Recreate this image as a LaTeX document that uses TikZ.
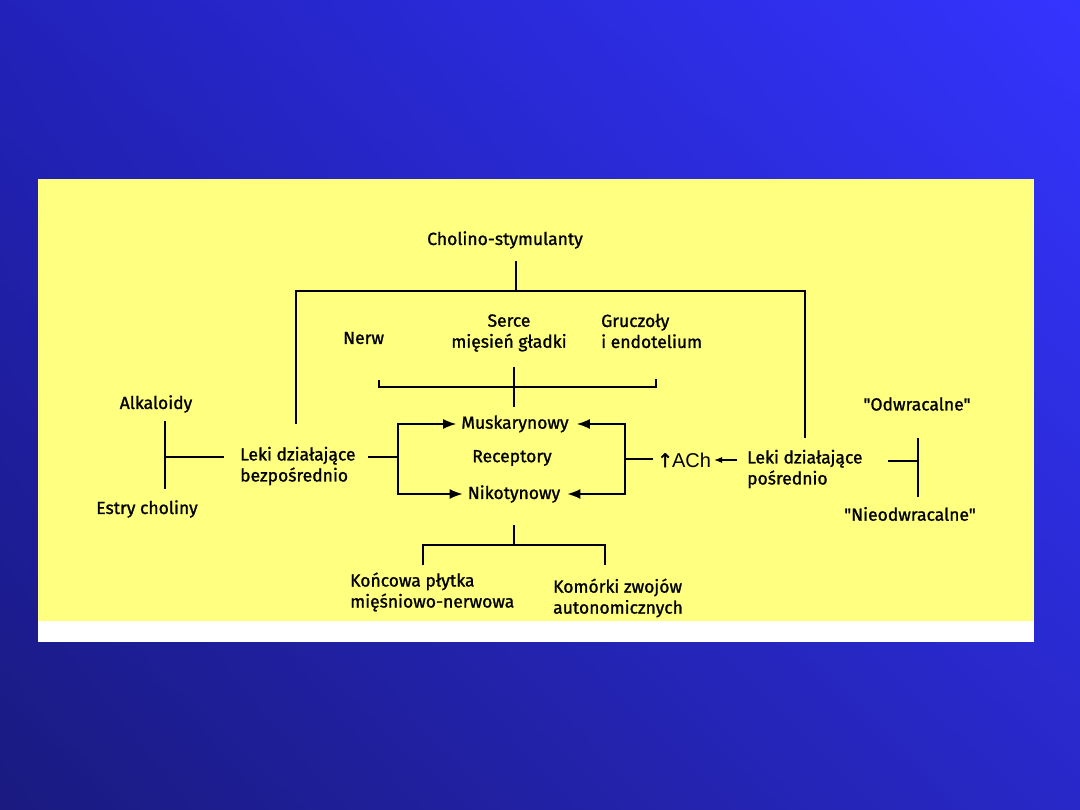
\documentclass[tikz,border=0pt]{standalone}
\usepackage{fontspec}
\setmainfont{Fira Sans}[Ligatures=TeXOff, FakeBold=1.2]
\newfontfamily\arialf{Liberation Sans}
\newfontfamily\djv{DejaVu Sans}[FakeBold=1.5]
\usetikzlibrary{arrows.meta,shadings}
\definecolor{bgA}{HTML}{2222BB}
\definecolor{bgB}{HTML}{3434FF}
\definecolor{bgC}{HTML}{1A1A80}
\definecolor{bgD}{HTML}{2828C8}
\definecolor{panel}{HTML}{FFFF80}
\begin{document}
\begin{tikzpicture}[x=1pt,y=-1pt,
  lbl/.style={font=\fontsize{17.5}{21}\selectfont, inner sep=0pt, align=left},
  lblc/.style={lbl, align=center},
  ln/.style={line width=1.6pt, black},
  thin/.style={line width=1.1pt, black},
  arr/.style={ln, -{Latex[length=13pt,width=10pt]}},
  sarr/.style={thin, -{Latex[length=8pt,width=6pt]}}]
\useasboundingbox (0,0) rectangle (1080,810);
\shade[upper left=bgA, upper right=bgB, lower left=bgC, lower right=bgD] (0,0) rectangle (1080,810);
\fill[white] (38,179) rectangle (1034,642);
\fill[panel] (38,179) rectangle (1034,621);

% texts
\node[lblc] (chol) at (505,240) {Cholino-stymulanty};
\node[lbl, anchor=west] (nerw) at (343,338) {Nerw};
\node[lblc] (serce) at (509,333) {Serce\\mięsień gładki};
\node[lbl, anchor=west] (grucz) at (601,331) {Gruczoły\\i endotelium};
\node[lblc] (alk) at (156,404) {Alkaloidy};
\node[lblc] (estry) at (147,509) {Estry choliny};
\node[lbl, anchor=west] (lekib) at (240,466) {Leki działające\\bezpośrednio};
\node[lbl, anchor=center] (musk) at (515,424) {Muskarynowy};
\node[lbl, anchor=center] (rec) at (512,458) {Receptory};
\node[lbl, anchor=center] (nik) at (514,494) {Nikotynowy};
\node[inner sep=0pt, anchor=west] (ach) at (657,460) {{\djv\fontsize{19}{20}\selectfont ↑}\kern-1pt{\arialf\fontsize{20}{22}\selectfont ACh}};
\node[lbl, anchor=west] (lekip) at (747,469) {Leki działające\\pośrednio};
\node[lblc] (odw) at (917,404) {"Odwracalne"};
\node[lblc] (nieodw) at (910,514) {"Nieodwracalne"};
\node[lbl, anchor=west] (konc) at (350,592) {Końcowa płytka\\mięśniowo-nerwowa};
\node[lbl, anchor=west] (kom) at (553,598) {Komórki zwojów\\autonomicznych};

% coordinates
\coordinate (cholB) at (516,261);
\coordinate (topJ) at (516,290);
\coordinate (topR) at (805,291);
\coordinate (lekibT) at (296,424);
\coordinate (lekipT) at (805,438);

% top tree
\draw[thin] (cholB) -- (topJ);
\draw[ln] (lekibT) |- (topR) -- (lekipT);

% organ bracket
\draw[thin] (379,380) -- (379,387) -- (656,387) -- (656,379);
\draw[thin] (514,367) -- (514,407);

% left bracket Alkaloidy / Estry
\draw[ln] (165,421) -- (165,489);
\draw[ln] (165,457) -- (224,457);

% left receptor bracket
\draw[ln] (368,457) -- (398,457);
\draw[arr] (398,457) |- ([xshift=-5pt]musk.west);
\draw[arr] (398,457) |- ([xshift=-5pt]nik.west);

% right receptor bracket
\draw[ln] (653,459) -- (625,459);
\draw[arr] (625,459) |- ([xshift=8pt]musk.east);
\draw[arr] (625,459) |- ([xshift=7pt]nik.east);

% ACh arrow
\draw[sarr] (737,460) -- (714,460);

% right bracket Odwracalne
\draw[thin] (888,461) -- (918,461);
\draw[thin] (918,438) -- (918,497);

% bottom tree
\draw[thin] (514,525) -- (514,545);
\draw[thin] (423,565) -- (423,545) -- (605,545) -- (605,565);
\end{tikzpicture}
\end{document}
